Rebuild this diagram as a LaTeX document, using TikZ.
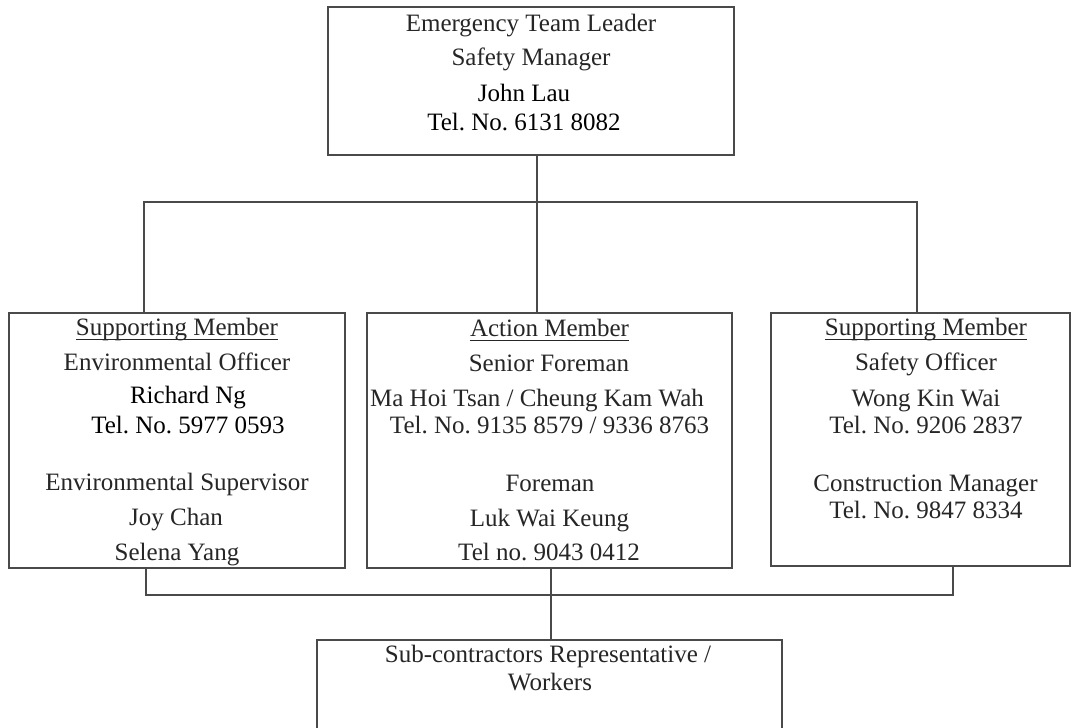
\documentclass[tikz,border=0pt]{standalone}
\usepackage{fontspec}
\setmainfont{Liberation Serif}
\frenchspacing
\begin{document}
\begin{tikzpicture}[x=1pt,y=-1pt,
  box/.style={draw=linegray, line width=1.5pt, rectangle, inner sep=0pt},
  conn/.style={draw=linegray, line width=1.5pt},
  t/.style={anchor=base, inner sep=0pt, text=txtgray, font=\fontsize{25}{29}\selectfont},
  tb/.style={t, text=black},
  ul/.style={draw=txtgray, line width=1pt}]
\definecolor{linegray}{HTML}{4A4A4A}
\definecolor{txtgray}{HTML}{262626}
\useasboundingbox (0,0) rectangle (1072,728);
\clip (0,0) rectangle (1072,728);
\fill[white] (0,0) rectangle (1072,728);

% boxes
\node[box, minimum width=406pt, minimum height=148pt] (top) at (531,81) {};
\node[box, minimum width=336pt, minimum height=255pt] (left) at (177,440.5) {};
\node[box, minimum width=365pt, minimum height=255pt] (mid) at (549.5,440.5) {};
\node[box, minimum width=299pt, minimum height=253pt] (right) at (920.5,439.5) {};
\node[box, minimum width=465pt, minimum height=130pt] (bot) at (549.5,705) {};

% top box text
\node[t] (t1) at (531,31) {Emergency Team Leader};
\node[t] (t2) at (531,65) {Safety Manager};
\node[tb] (t3) at (524,101) {John Lau};
\node[tb] (t4) at (524,130) {Tel. No. 6131 8082};

% left box text
\node[t] (l1) at (177,335) {Supporting Member};
\node[t] (l2) at (177,370) {Environmental Officer};
\node[tb] (l3) at (188,403) {Richard Ng};
\node[tb] (l4) at (188,433) {Tel. No. 5977 0593};
\node[t] (l5) at (177,490) {Environmental Supervisor};
\node[t] (l6) at (176,525) {Joy Chan};
\node[t] (l7) at (177,560) {Selena Yang};

% middle box text
\node[t] (m1) at (549.5,336) {Action Member};
\node[t] (m2) at (549,371) {Senior Foreman};
\node[t] (m3) at (537,406) {Ma Hoi Tsan / Cheung Kam Wah};
\node[t] (m4) at (549.5,433) {Tel. No. 9135 8579 / 9336 8763};
\node[t] (m5) at (550,491) {Foreman};
\node[t] (m6) at (549.5,526) {Luk Wai Keung};
\node[t] (m7) at (549,560) {Tel no. 9043 0412};

% right box text
\node[t] (r1) at (926,335) {Supporting Member};
\node[t] (r2) at (926,370) {Safety Officer};
\node[t] (r3) at (926,406) {Wong Kin Wai};
\node[t] (r4) at (926,433) {Tel. No. 9206 2837};
\node[t] (r5) at (925.5,491) {Construction Manager};
\node[t] (r6) at (926,518) {Tel. No. 9847 8334};

% bottom box text
\node[t] (b1) at (548,662) {Sub-contractors Representative /};
\node[t] (b2) at (550,690) {Workers};

% underlines
\foreach \n in {l1,m1,r1}
  \draw[ul] ([yshift=-4pt]\n.base west) -- ([yshift=-4pt]\n.base east);

% connectors
\coordinate (j1) at (537,202);
\coordinate (j1L) at (144,202);
\coordinate (j1R) at (917,202);
\coordinate (j2) at (551,595);
\coordinate (j2L) at (146,595);
\coordinate (j2R) at (953,595);

\draw[conn] (top.south -| j1) -- (j1);
\draw[conn] (left.north -| j1L) -- (j1L) -- (j1R) -- (right.north -| j1R);
\draw[conn] (j1) -- (mid.north -| j1);

\draw[conn] (left.south -| j2L) -- (j2L) -- (j2R) -- (right.south -| j2R);
\draw[conn] (mid.south -| j2) -- (bot.north -| j2);
\end{tikzpicture}
\end{document}
